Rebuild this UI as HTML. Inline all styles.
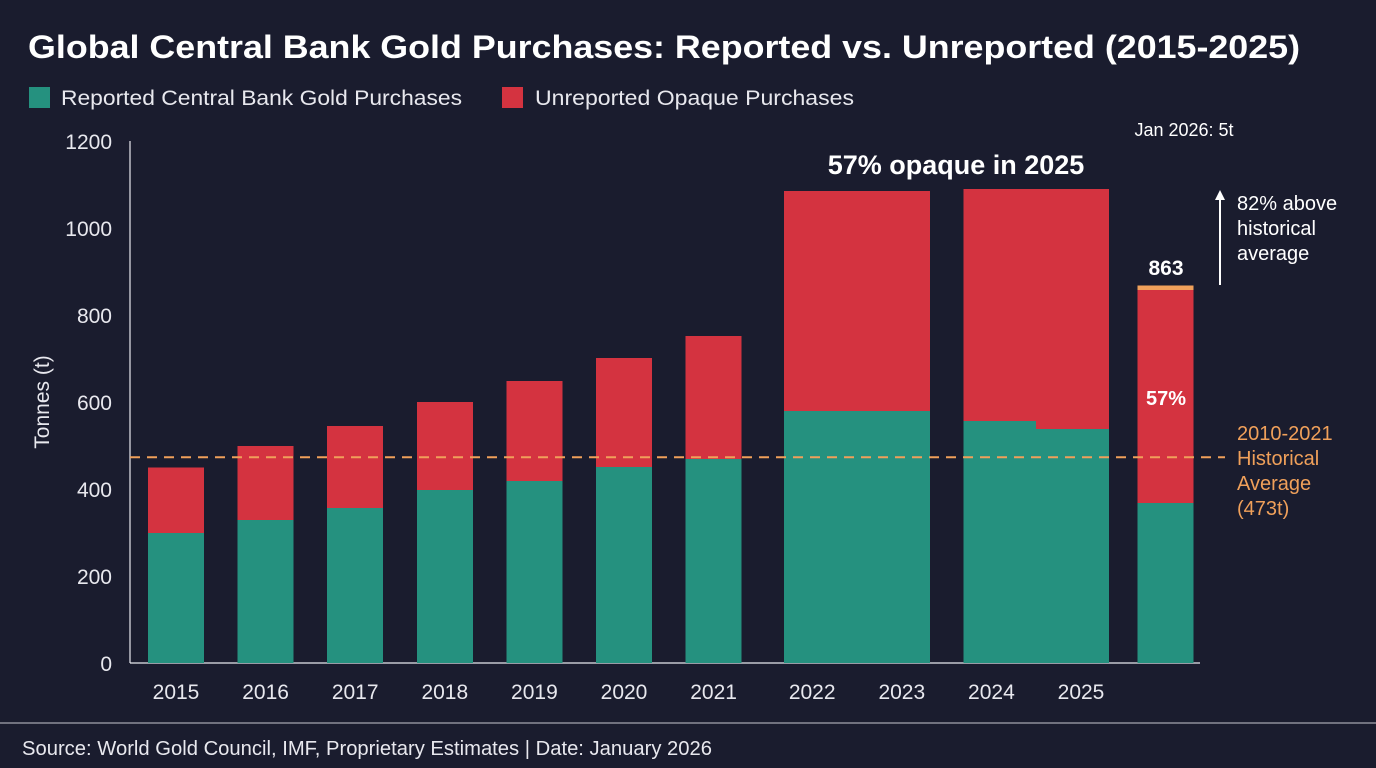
<!DOCTYPE html>
<html><head><meta charset="utf-8"><style>
html,body{margin:0;padding:0;background:#1a1c2e;}
svg{display:block;font-family:"Liberation Sans",sans-serif;}
</style></head><body>
<svg id="chart" width="1376" height="768" viewBox="0 0 1376 768">
<rect x="0" y="0" width="1376" height="768" fill="#1a1c2e"/>
<text x="28" y="58" font-size="32" font-weight="bold" fill="#ffffff" textLength="1272" lengthAdjust="spacingAndGlyphs">Global Central Bank Gold Purchases: Reported vs. Unreported (2015-2025)</text>
<g>
<rect x="29" y="87" width="21" height="21" fill="#25917f"/>
<text x="61" y="105" font-size="21" fill="#e8e8ee" textLength="401" lengthAdjust="spacingAndGlyphs">Reported Central Bank Gold Purchases</text>
<rect x="502" y="87" width="21" height="21" fill="#d43340"/>
<text x="535" y="105" font-size="21" fill="#e8e8ee" textLength="319" lengthAdjust="spacingAndGlyphs">Unreported Opaque Purchases</text>
</g>
<g id="grid"></g>
<g id="bars" shape-rendering="crispEdges"></g>
<g id="annot"></g>
<line x1="0" y1="723" x2="1376" y2="723" stroke="#c8c8d0" stroke-width="1"/>
<text x="22" y="755" font-size="20" fill="#e8e8ee" textLength="690" lengthAdjust="spacingAndGlyphs">Source: World Gold Council, IMF, Proprietary Estimates | Date: January 2026</text>
</svg>
<script>
const years = ["2015","2016","2017","2018","2019","2020","2021","2022","2023","2024","2025","2026"];
const reported = [299,329,356,398,418,451,469,579,579,556,538,368];
const totals = [450,499,545,600,648,701,752,1085,1085,1090,1090,858];
const jan2026 = [0,0,0,0,0,0,0,0,0,0,0,10];
const mergedWith = [0,0,0,0,0,0,0,1,-1,1,-1,0]; // 1 = merges with next, -1 = merges with previous
const showLabel = [1,1,1,1,1,1,1,1,1,1,1,0];
const yTicks = [0,200,400,600,800,1000,1200];
const historicalAvg = 473;

const NS="http://www.w3.org/2000/svg";
function el(t,a,p){const e=document.createElementNS(NS,t);for(const k in a)e.setAttribute(k,a[k]);p.appendChild(e);return e;}
const y0=663, yTop=141, yMax=1200;
function y(v){return y0-(v/yMax)*(y0-yTop);}
function xc(i){return 176+89.6*i+(i>=11?4:(i>=7?9:0));}
const grid=document.getElementById('grid'), bars=document.getElementById('bars'), annot=document.getElementById('annot');

yTicks.forEach(t=>{
  const tx=el('text',{x:112,y:y(t)+8,'font-size':21,fill:'#e8e8ee','text-anchor':'end'},grid);
  tx.textContent=t;
  
  
});
const ax=el('line',{x1:130,y1:y(1200),x2:130,y2:y0,stroke:'#e8e8ee','stroke-width':1.2},grid);


const bx=el('line',{x1:130,y1:y0,x2:1200,y2:y0,stroke:'#e8e8ee','stroke-width':1.2},grid);


const yt=el('text',{x:0,y:0,'font-size':21,fill:'#e8e8ee','text-anchor':'middle',transform:'translate(49,402) rotate(-90)'},grid);
yt.textContent='Tonnes (t)';



years.forEach((yr,i)=>{
  const c=xc(i); let l=c-28, r=c+28;
  if(mergedWith[i]===1){r=c+(xc(i+1)-c)/2+1;}
  if(mergedWith[i]===-1){l=c-(c-xc(i-1))/2;}
  const g=el('rect',{x:l,y:y(reported[i]),width:r-l,height:y0-y(reported[i]),fill:'#25917f'},bars);
  
  
  const rd=el('rect',{x:l,y:y(totals[i]),width:r-l,height:y(reported[i])-y(totals[i]),fill:'#d43340'},bars);
  
  
  if(jan2026[i]>0){
    const o=el('rect',{x:l,y:y(totals[i]+jan2026[i]),width:r-l,height:y(totals[i])-y(totals[i]+jan2026[i]),fill:'#f0a05a'},bars);
    
    
  }
  if(showLabel[i]){
    const t=el('text',{x:c,y:699,'font-size':21,fill:'#e8e8ee','text-anchor':'middle'},bars);
    t.textContent=yr;
    
    
  }
});

const av=el('line',{x1:130,y1:y(historicalAvg),x2:1225,y2:y(historicalAvg),stroke:'#f0a05a','stroke-width':2,'stroke-dasharray':'10 7'},annot);



function txt(x,yy,s,size,fill,weight,anchor,name){
  const t=el('text',{x:x,y:yy,'font-size':size,fill:fill,'font-weight':weight||'normal','text-anchor':anchor||'start'},annot);
  t.textContent=s;
  
  
  return t;
}
txt(1237,440,'2010-2021',20,'#f0a05a','normal','start','avg-label-line1');
txt(1237,465,'Historical',20,'#f0a05a','normal','start','avg-label-line2');
txt(1237,490,'Average',20,'#f0a05a','normal','start','avg-label-line3');
txt(1237,515,'(473t)',20,'#f0a05a','normal','start','avg-label-line4');
txt(956,174,'57% opaque in 2025',27,'#ffffff','bold','middle','opaque-callout');
txt(1184,136,'Jan 2026: 5t',18,'#ffffff','normal','middle','jan-2026-label');
txt(1166,275,'863',21,'#ffffff','bold','middle','total-863-label');
txt(1166,405,'57%',20,'#ffffff','bold','middle','pct-57-label');
txt(1237,210,'82% above',20,'#ffffff','normal','start','above-label-line1');
txt(1237,235,'historical',20,'#ffffff','normal','start','above-label-line2');
txt(1237,260,'average',20,'#ffffff','normal','start','above-label-line3');
const ar=el('line',{x1:1220,y1:285,x2:1220,y2:198,stroke:'#ffffff','stroke-width':2},annot);


const ah=el('polygon',{points:'1215,200 1220,190 1225,200',fill:'#ffffff'},annot);


</script>
</body></html>
